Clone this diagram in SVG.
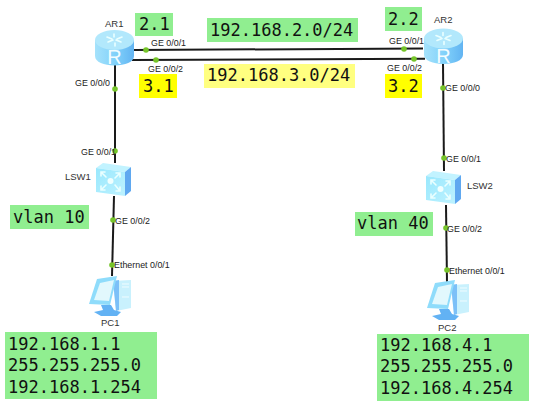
<svg xmlns="http://www.w3.org/2000/svg" width="537" height="407" viewBox="0 0 537 407">
<style>
.m{font-family:"DejaVu Sans Mono","Liberation Mono",monospace;font-size:17px;fill:#111}
.s{font-family:"Liberation Sans",Arial,sans-serif;font-size:8.9px;fill:#222}
.n{font-family:"Liberation Sans",Arial,sans-serif;font-size:9.5px;fill:#333}
.g{fill:#90ee90}.y{fill:#ffff00}.ly{fill:#ffff80}
.l{fill:none;stroke:#1a1a1a;stroke-width:2}
.d{fill:#76c52a}
.w{fill:none;stroke:#eaffff;stroke-width:1.6;stroke-linecap:round}
</style>
<defs>
<linearGradient id="rs" x1="0" x2="1" y1="0" y2="0"><stop offset="0" stop-color="#a5e2fb"/><stop offset=".55" stop-color="#7fd0fa"/><stop offset="1" stop-color="#62b4f2"/></linearGradient>
<linearGradient id="sw" x1="0" x2="1" y1="0" y2="1"><stop offset="0" stop-color="#9ae8fd"/><stop offset="1" stop-color="#bdf2ff"/></linearGradient>
<g id="router">
<path d="M0 10V26C0 32 9 35.500 19.500 35.500S39 32 39 26V10Z" fill="url(#rs)"/>
<ellipse cx="19.500" cy="10" rx="19.500" ry="10" fill="#b2e8fc"/>
<path d="M12 7l5 2M13 12l5-2M27 7l-5 2M26 12l-5-2M19 4v3M20 16v-3" class="w"/>
<text x="19.500" y="34" text-anchor="middle" font-family="Liberation Sans,sans-serif" font-size="20" fill="#f2fcff">R</text>
</g>
<g id="switch">
<path d="M0 5L7 0L35 4L29 9Z" fill="#c2f3ff"/>
<path d="M29 9L35 4V28L29 33Z" fill="#5fa8f0"/>
<path d="M0 5L29 9V33L0 29Z" fill="url(#sw)"/>
<circle cx="14.500" cy="18" r="3" fill="#f0ffff"/>
<path d="M5 9l5 5M5 13V9H9M24 10l-5 5M20 10h4v4M5 27l5-5M5 23v4h4M24 28l-5-6M24 24v4h-4" class="w"/>
</g>
<g id="pc">
<path d="M24 5L42 4V32L27 35Z" fill="#c9f1fd"/>
<path d="M24 5L30 4V34L27 35Z" fill="#7cc0f8"/>
<path d="M33 8h7M33 11h7M33 21h7" stroke="#f0fcff" stroke-width="1"/>
<path d="M8 3L28 0L21 29L0 28Z" fill="#8fdcfb"/>
<path d="M11 7L25 4L20 25L5 24Z" fill="#e2f8fd"/>
<path d="M12 29L22 29L25 34L32 36L28 40H12L5 36L14 34Z" fill="#62b2f4"/>
</g>
</defs>
<rect width="537" height="407" fill="#fff"/>
<g id="connectors">
<path class="l" d="M134 50L423 48.500"/>
<path class="l" d="M132 60L425 58.800"/>
<path class="l" d="M115 65L115 163"/>
<path class="l" d="M114 196L112 276"/>
<path class="l" d="M443 63L444 171"/>
<path class="l" d="M446 205L447 282"/>
<circle class="d" cx="146" cy="50" r="2.800"/>
<circle class="d" cx="156" cy="60" r="2.800"/>
<circle class="d" cx="404" cy="49" r="2.800"/>
<circle class="d" cx="414" cy="59" r="2.800"/>
<circle class="d" cx="115" cy="89" r="2.800"/>
<circle class="d" cx="115" cy="151" r="2.800"/>
<circle class="d" cx="113" cy="220" r="2.800"/>
<circle class="d" cx="112" cy="265" r="2.800"/>
<circle class="d" cx="443" cy="88" r="2.800"/>
<circle class="d" cx="444" cy="158" r="2.800"/>
<circle class="d" cx="446" cy="228" r="2.800"/>
<circle class="d" cx="447" cy="270" r="2.800"/>
</g>
<g id="AR1"><use href="#router" x="95" y="30"/><text class="n" x="105" y="27">AR1</text></g>
<g id="AR2"><use href="#router" x="424" y="28.500"/><text class="n" x="434" y="23">AR2</text></g>
<g id="LSW1"><use href="#switch" x="96" y="163"/><text class="n" x="65" y="180">LSW1</text></g>
<g id="LSW2"><use href="#switch" x="426" y="171"/><text class="n" x="467" y="189">LSW2</text></g>
<g id="PC1"><use href="#pc" x="89" y="276"/><text class="n" x="101" y="326">PC1</text></g>
<g id="PC2"><use href="#pc" x="427" y="280"/><text class="n" x="438" y="331">PC2</text></g>
<g id="port-labels">
<text class="s" x="151" y="46">GE 0/0/1</text>
<text class="s" x="148" y="72">GE 0/0/2</text>
<text class="s" x="75" y="86">GE 0/0/0</text>
<text class="s" x="389" y="44">GE 0/0/1</text>
<text class="s" x="387" y="71">GE 0/0/2</text>
<text class="s" x="445" y="91">GE 0/0/0</text>
<text class="s" x="81" y="155">GE 0/0/1</text>
<text class="s" x="115" y="224">GE 0/0/2</text>
<text class="s" x="446" y="162">GE 0/0/1</text>
<text class="s" x="447" y="232">GE 0/0/2</text>
<text class="s" x="114" y="268">Ethernet 0/0/1</text>
<text class="s" x="449" y="274">Ethernet 0/0/1</text>
</g>
<g id="note-2-1"><rect class="g" x="135" y="13" width="38" height="23"/><text class="m" x="139" y="30">2.1</text></g>
<g id="note-2-2"><rect class="g" x="385" y="7" width="37" height="24"/><text class="m" x="388" y="25">2.2</text></g>
<g id="note-3-1"><rect class="y" x="139" y="74" width="38" height="24"/><text class="m" x="143" y="92">3.1</text></g>
<g id="note-3-2"><rect class="y" x="385" y="74" width="37" height="24"/><text class="m" x="388" y="92">3.2</text></g>
<g id="net-2"><rect class="g" x="207" y="18" width="151" height="24"/><text class="m" x="210" y="36">192.168.2.0/24</text></g>
<g id="net-3"><rect class="ly" x="204" y="64" width="151" height="24"/><text class="m" x="207" y="81">192.168.3.0/24</text></g>
<g id="vlan10"><rect class="g" x="10" y="205" width="79" height="24"/><text class="m" x="13" y="223">vlan 10</text></g>
<g id="vlan40"><rect class="g" x="355" y="212" width="78" height="24"/><text class="m" x="357" y="229">vlan 40</text></g>
<g id="pc1-info"><rect class="g" x="5" y="332" width="152" height="67"/>
<text class="m" x="8" y="350">192.168.1.1</text><text class="m" x="8" y="371">255.255.255.0</text><text class="m" x="8" y="393">192.168.1.254</text></g>
<g id="pc2-info"><rect class="g" x="377" y="334" width="152" height="67"/>
<text class="m" x="380" y="351">192.168.4.1</text><text class="m" x="380" y="372">255.255.255.0</text><text class="m" x="380" y="394">192.168.4.254</text></g>
</svg>
